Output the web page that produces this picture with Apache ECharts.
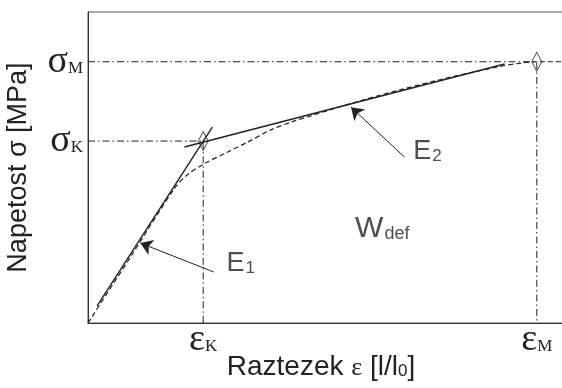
<!DOCTYPE html>
<html>
<head>
<meta charset="utf-8">
<script src="https://cdn.jsdelivr.net/npm/echarts@6/dist/echarts.min.js"></script>
<style>
html,body{margin:0;padding:0;background:#fff;}
#c{width:562px;height:388px;}
</style>
</head>
<body>
<div id="c"></div>
<script>
// ---- data (schematic stress–strain diagram) ----
const strainMarks = [24, 93.5];          // εK, εM
const stressMarks = [58.5, 84];          // σK, σM
const markNames = ['K', 'M'];
const curveStrain = [0, 9.1, 18.2, 20.9, 24.1, 29.1, 33.3, 38.1, 42.3, 46.4, 54.8, 65.3, 75.7, 86.2, 90.4, 93.5, 100];
const curveStress = [0, 21.8, 43.7, 47.9, 51.1, 55.0, 58.2, 62.1, 64.6, 66.6, 70.6, 75.1, 79.1, 82.6, 83.6, 84.0, 84.0];
const e1Strain = [1.9, 25.9];
const e1Stress = [5.5, 63.0];
const e2Strain = [20.1, 86.8];
const e2Stress = [56.6, 83.3];
const arrowE1 = [[26.2, 16.4], [10.9, 25.7]];
const arrowE2 = [[65.9, 53.4], [54.8, 69.4]];
const noteText = ['{b|E}{s|1}', '{b|E}{s|2}', '{w|W}{d|def}'];
const noteStrain = [31.8, 70.7, 61.3];
const noteStress = [19.0, 55.0, 30.2];

const INK = '#222';
const dashDot = [7, 3, 1.5, 3];

const zip = (a, b) => a.map((v, i) => [v, b[i]]);

const chart = echarts.init(document.getElementById('c'), null, {renderer: 'canvas'});

const serifRich = {
  g: {fontFamily: 'Liberation Serif', fontSize: 38, lineHeight: 38, color: INK, verticalAlign: 'bottom'},
  s: {fontFamily: 'Liberation Serif', fontSize: 17, lineHeight: 17, color: INK, verticalAlign: 'bottom', padding: [0, 0, 4, 0]}
};

const option = {
  animation: false,
  backgroundColor: '#fff',
  grid: {left: 88, top: 12, width: 480, height: 311, show: true, borderColor: '#555', borderWidth: 1,
         containLabel: false, outerBoundsMode: 'none'},
  xAxis: {
    type: 'value', min: 0, max: 100,
    splitLine: {show: false},
    axisTick: {show: false},
    axisLine: {lineStyle: {color: '#333', width: 1}},
    axisLabel: {
      customValues: strainMarks,
      margin: -2,
      formatter: v => '{g|ε}{s|' + markNames[strainMarks.indexOf(v)] + '}',
      rich: serifRich
    },
    name: 'Raztezek {e|ε} [l/l{sub|0}]',
    nameLocation: 'middle',
    nameGap: 30,
    nameMoveOverlap: false,
    nameTextStyle: {
      fontFamily: 'Liberation Sans', fontSize: 28, color: INK, padding: [0, 14, 0, 0],
      rich: {
        e: {fontFamily: 'Liberation Serif', fontSize: 26, color: INK, verticalAlign: 'bottom', lineHeight: 28},
        sub: {fontFamily: 'Liberation Sans', fontSize: 17, color: INK, verticalAlign: 'bottom', lineHeight: 17, padding: [0,0,1,0]}
      }
    }
  },
  yAxis: {
    type: 'value', min: 0, max: 100,
    splitLine: {show: false},
    axisTick: {show: false},
    axisLine: {lineStyle: {color: '#333', width: 1}},
    axisLabel: {
      customValues: stressMarks,
      margin: 5,
      formatter: v => '{g|σ}{s|' + markNames[stressMarks.indexOf(v)] + '}',
      rich: serifRich
    },
    name: 'Napetost σ [MPa]',
    nameLocation: 'middle',
    nameRotate: 90,
    nameGap: 56,
    nameMoveOverlap: false,
    nameTextStyle: {fontFamily: 'Liberation Sans', fontSize: 27, color: INK}
  },
  series: [
    {
      type: 'line', data: [[0, stressMarks[0]], [strainMarks[0], stressMarks[0]], [strainMarks[0], 0]],
      symbol: 'none', lineStyle: {color: INK, width: 1, type: dashDot}, z: 2
    },
    {
      type: 'line', data: [[0, stressMarks[1]], [strainMarks[1], stressMarks[1]], [strainMarks[1], 0]],
      symbol: 'none', lineStyle: {color: INK, width: 1, type: dashDot}, z: 2
    },
    {
      type: 'line', data: zip(curveStrain, curveStress), smooth: 0.3,
      symbol: 'none', lineStyle: {color: INK, width: 1.2, type: [5, 3]}, z: 3
    },
    {
      type: 'line', data: zip(e1Strain, e1Stress),
      symbol: 'none', lineStyle: {color: INK, width: 1.4}, z: 4
    },
    {
      type: 'line', data: zip(e2Strain, e2Stress),
      symbol: 'none', lineStyle: {color: INK, width: 1.6}, z: 4
    },
    {
      type: 'scatter', data: zip(strainMarks, stressMarks),
      symbol: 'diamond', symbolSize: [10, 19],
      itemStyle: {color: 'rgba(0,0,0,0)', borderColor: INK, borderWidth: 1}, z: 5
    },
    {
      type: 'lines', coordinateSystem: 'cartesian2d',
      data: [{coords: arrowE1}, {coords: arrowE2}],
      symbol: ['none', 'arrow'], symbolSize: 12,
      lineStyle: {color: INK, width: 1, opacity: 1}, z: 5
    },
    {
      type: 'scatter', symbolSize: 0,
      data: zip(noteStrain, noteStress).map((p, i) => ({value: p, label: {formatter: noteText[i]}})),
      label: {
        show: true, position: 'inside', color: INK,
        rich: {
          b: {fontFamily: 'Liberation Sans', fontSize: 27, lineHeight: 27, color: INK, verticalAlign: 'bottom'},
          s: {fontFamily: 'Liberation Sans', fontSize: 17, lineHeight: 17, color: INK, verticalAlign: 'bottom', padding: [0, 0, 1, 1]},
          w: {fontFamily: 'Liberation Sans', fontSize: 30, lineHeight: 30, color: INK, verticalAlign: 'bottom'},
          d: {fontFamily: 'Liberation Sans', fontSize: 18, lineHeight: 18, color: INK, verticalAlign: 'bottom', padding: [0, 0, 1, 1]}
        }
      },
      z: 6
    }
  ]
};
chart.setOption(option);
</script>
</body>
</html>
